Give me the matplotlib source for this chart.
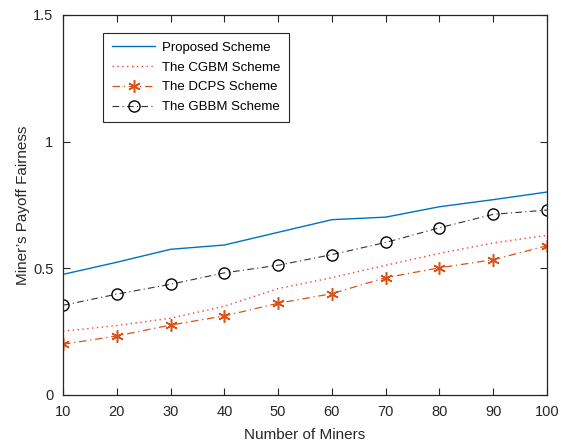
import matplotlib
matplotlib.use("Agg")
import matplotlib.pyplot as plt

# Data
miners = [10, 20, 30, 40, 50, 60, 70, 80, 90, 100]
proposed = [0.476, 0.524, 0.575, 0.592, 0.642, 0.692, 0.702, 0.743, 0.771, 0.801]
cgbm = [0.252, 0.274, 0.303, 0.350, 0.420, 0.463, 0.512, 0.559, 0.600, 0.630]
dcps = [0.200, 0.233, 0.276, 0.312, 0.362, 0.400, 0.463, 0.502, 0.534, 0.589]
gbbm = [0.354, 0.398, 0.437, 0.482, 0.512, 0.554, 0.602, 0.660, 0.713, 0.730]

plt.rcParams["font.family"] = ["Liberation Sans", "DejaVu Sans"]

fig = plt.figure(figsize=(5.65, 4.43), dpi=100)
ax = fig.add_axes([0.1115, 0.1084, 0.8566, 0.8578])

ax.plot(miners, proposed, color="#0072BD", linewidth=1.0, label="Proposed Scheme")
ax.plot(miners, cgbm, color="#FF3B3B", linestyle=(0, (1, 2.5)), linewidth=1.0,
        label="The CGBM Scheme")
ax.plot(miners, dcps, color="#D95319", linestyle=(0, (6, 3, 1, 3)), linewidth=0.9,
        marker=(6, 2, 0), markersize=9, markeredgewidth=1.1, label="The DCPS Scheme")
ax.plot(miners, gbbm, color="#333333", linestyle=(0, (6, 3, 1, 3)), linewidth=0.8,
        marker="o", markersize=8, markerfacecolor="none", markeredgecolor="black",
        markeredgewidth=1.0, label="The GBBM Scheme")

ax.set_xlim(10, 100)
ax.set_ylim(0, 1.5)
ax.set_xticks(miners)
ax.set_yticks([0, 0.5, 1, 1.5])
ax.set_yticklabels(["0", "0.5", "1", "1.5"])
ax.tick_params(direction="in", labelsize=10.5, top=True, right=True, length=5,
               width=0.8, colors="#262626", labelcolor="#262626")
ax.tick_params(axis="x", pad=7)
ax.tick_params(axis="y", pad=7)
for s in ax.spines.values():
    s.set_linewidth(0.9)
    s.set_color("#262626")

ax.set_xlabel("Number of Miners", fontsize=11, color="#262626", labelpad=7)
ax.set_ylabel("Miner\u2019s Payoff Fairness", fontsize=11, color="#262626", labelpad=2)

leg = ax.legend(loc="upper left", bbox_to_anchor=(0.083, 0.953), fontsize=9.5,
                frameon=True, fancybox=False, edgecolor="#262626", framealpha=1,
                handlelength=3.3, borderpad=0.65, labelspacing=0.58, handletextpad=0.5,
                borderaxespad=0)
leg.get_frame().set_linewidth(0.8)

fig.savefig("out.png", dpi=100)
